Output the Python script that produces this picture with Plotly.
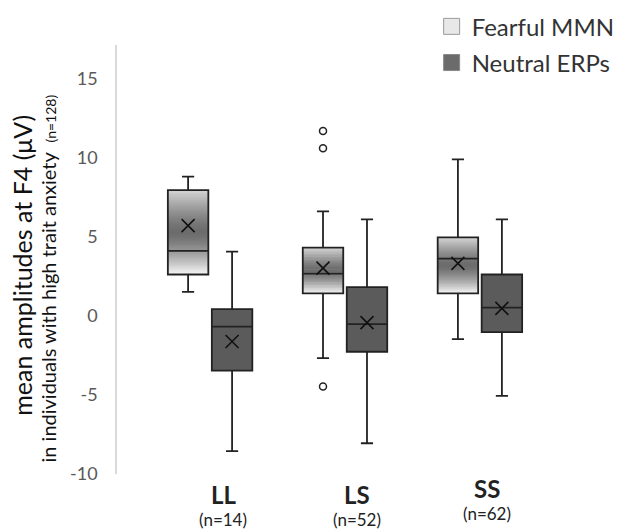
import plotly.graph_objects as go

categories = ["LL", "LS", "SS"]
n_labels = ["(n=14)", "(n=52)", "(n=62)"]

# Fearful MMN stats
f_lower = [1.5, -2.7, -1.5]
f_q1 = [2.6, 1.4, 1.4]
f_med = [4.1, 2.65, 3.6]
f_q3 = [7.95, 4.3, 4.95]
f_upper = [8.8, 6.6, 9.9]
f_mean = [5.7, 3.0, 3.3]
f_outliers = [[], [11.7, 10.6, -4.5], []]

# Neutral ERPs stats
n_lower = [-8.6, -8.1, -5.1]
n_q1 = [-3.5, -2.3, -1.05]
n_med = [-0.7, -0.55, 0.5]
n_q3 = [0.4, 1.8, 2.6]
n_upper = [4.05, 6.1, 6.1]
n_mean = [-1.65, -0.45, 0.45]
n_outliers = [[], [], []]

yticks = [-10, -5, 0, 5, 10, 15]
ytick_text = ["-10", "-5", "0", "5", "10", "15"]

FONT = "Lato"
pos = [1, 2, 3]
off = 0.163
bw = 0.30
fx = [p - off for p in pos]
nx = [p + off for p in pos]

fig = go.Figure()

# gradient fill for fearful boxes (overlapping bands between q1 and q3)
shapes = []
nb = 60
for i in range(3):
    lo, hi = f_q1[i], f_q3[i]
    step = (hi - lo) / nb
    for k in range(nb):
        tc = (k + 0.5) / nb
        d = abs(2 * tc - 1)
        top_edge = 215 if tc > 0.5 else 248
        g = int(108 + (top_edge - 108) * d ** 1.4)
        y0 = lo + step * k
        y1 = min(hi, y0 + step * 1.8)
        shapes.append(dict(type="rect", xref="x", yref="y",
                           x0=fx[i] - bw / 2, x1=fx[i] + bw / 2,
                           y0=y0, y1=y1,
                           fillcolor=f"rgb({g},{g},{g})", line=dict(width=0),
                           layer="below"))

for i in range(3):
    fig.add_trace(go.Box(x=[fx[i]], q1=[f_q1[i]], median=[f_med[i]], q3=[f_q3[i]],
                         lowerfence=[f_lower[i]], upperfence=[f_upper[i]],
                         width=bw, whiskerwidth=0.3,
                         fillcolor="rgba(0,0,0,0)", line=dict(color="#222", width=1.8),
                         showlegend=False, hoverinfo="skip"))
    fig.add_trace(go.Box(x=[nx[i]], q1=[n_q1[i]], median=[n_med[i]], q3=[n_q3[i]],
                         lowerfence=[n_lower[i]], upperfence=[n_upper[i]],
                         width=bw, whiskerwidth=0.3,
                         fillcolor="#5b5b5b", line=dict(color="#222", width=1.8),
                         showlegend=False, hoverinfo="skip"))

# means
fig.add_trace(go.Scatter(x=fx + nx, y=f_mean + n_mean, mode="markers",
                         marker=dict(symbol="x-thin", size=13,
                                     line=dict(color="#111", width=1.6)),
                         showlegend=False, hoverinfo="skip"))
# outliers
ox, oy = [], []
for i in range(3):
    for v in f_outliers[i]:
        ox.append(fx[i]); oy.append(v)
    for v in n_outliers[i]:
        ox.append(nx[i]); oy.append(v)
fig.add_trace(go.Scatter(x=ox, y=oy, mode="markers",
                         marker=dict(symbol="circle-open", size=7, color="#222",
                                     line=dict(color="#222", width=1.5)),
                         showlegend=False, hoverinfo="skip"))

# legend entries
fig.add_trace(go.Scatter(x=[None], y=[None], mode="markers", name="Fearful MMN",
                         legendgroup="a",
                         marker=dict(symbol="square", size=20, color="#e8e8e8",
                                     line=dict(color="#9a9a9a", width=1))))
fig.add_trace(go.Scatter(x=[None], y=[None], mode="markers", name="Neutral ERPs",
                         legendgroup="b",
                         marker=dict(symbol="square", size=20, color="#6b6b6b",
                                     line=dict(color="#888", width=1))))

annotations = []
xshift = [13, 12, 7]
yshift = [2, 2, 8]
for i in range(3):
    annotations.append(dict(x=pos[i], y=-0.014, xref="x", yref="paper",
                            text=f"<b>{categories[i]}</b>", showarrow=False,
                            xshift=xshift[i], yshift=yshift[i], yanchor="top",
                            font=dict(family=FONT, size=24, color="#222")))
    annotations.append(dict(x=pos[i], y=-0.082, xref="x", yref="paper",
                            text=n_labels[i], showarrow=False,
                            xshift=xshift[i], yshift=yshift[i], yanchor="top",
                            font=dict(family=FONT, size=17, color="#222")))

annotations.append(dict(x=-0.21, y=0.486, xref="paper", yref="paper",
                        text="mean amplitudes at F4 (μV)", textangle=-90,
                        showarrow=False, xanchor="center", yanchor="middle",
                        font=dict(family=FONT, size=25, color="#111")))
annotations.append(dict(x=-0.152, y=0.455, xref="paper", yref="paper",
                        text="in individuals with high trait anxiety  <span style='font-size:14px'>(n=128)</span>",
                        textangle=-90, showarrow=False, xanchor="center", yanchor="middle",
                        font=dict(family=FONT, size=20, color="#111")))

fig.update_layout(
    width=617, height=530,
    margin=dict(l=117, r=44, t=45, b=56, autoexpand=False),
    paper_bgcolor="white", plot_bgcolor="white",
    shapes=shapes, annotations=annotations,
    showlegend=True,
    legend=dict(x=0.69, y=1.095, xanchor="left", yanchor="top",
                font=dict(family=FONT, size=24, color="#333"),
                tracegroupgap=2, bgcolor="rgba(0,0,0,0)"),
    xaxis=dict(range=[0.31, 3.69], showticklabels=False, showgrid=False,
               zeroline=False, showline=False, ticks=""),
    yaxis=dict(range=[-10.05, 17.15], tickvals=yticks, ticktext=ytick_text,
               showgrid=False, zeroline=False, showline=True,
               linecolor="#d9d9d9", linewidth=1.5,
               ticks="", ticklabelstandoff=14,
               tickfont=dict(family=FONT, size=18, color="#595959")),
)

fig.write_html("out.html")
